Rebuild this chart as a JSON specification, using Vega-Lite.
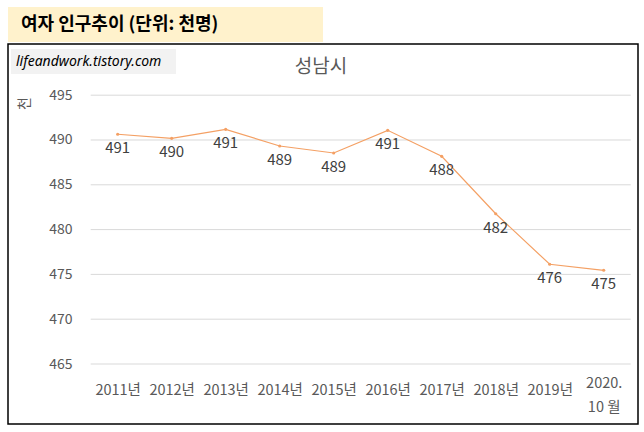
{
  "$schema": "https://vega.github.io/schema/vega-lite/v6.json",
  "description": "성남시 여자 인구추이 (단위: 천명)",
  "padding": {"left": 7, "top": 7, "right": 0, "bottom": 0},
  "background": "white",
  "spacing": 1,
  "config": {"font": "Noto Sans CJK KR"},
  "datasets": {
    "population": [
      {"year": 2011, "value": 490.64},
      {"year": 2012, "value": 490.19},
      {"year": 2013, "value": 491.19},
      {"year": 2014, "value": 489.33},
      {"year": 2015, "value": 488.55},
      {"year": 2016, "value": 491.08},
      {"year": 2017, "value": 488.18},
      {"year": 2018, "value": 481.77},
      {"year": 2019, "value": 476.13},
      {"year": 2020, "value": 475.46}
    ],
    "gridlines": [
      {"value": 465}, {"value": 470}, {"value": 475}, {"value": 480},
      {"value": 485}, {"value": 490}, {"value": 495}
    ]
  },
  "vconcat": [
    {
      "width": 315,
      "height": 35,
      "view": {"fill": "#FFF2CC", "stroke": null},
      "title": {
        "text": "여자 인구추이 (단위: 천명)",
        "anchor": "start",
        "frame": "group",
        "dx": 13,
        "offset": -27,
        "fontSize": 18,
        "fontWeight": "bold",
        "color": "#000000"
      },
      "data": {"values": []},
      "mark": "text"
    },
    {
      "width": 630,
      "height": 380,
      "view": {"stroke": "#000000", "strokeWidth": 1.5},
      "title": {
        "text": "성남시",
        "anchor": "middle",
        "frame": "group",
        "dx": -2,
        "offset": -33,
        "fontSize": 19,
        "fontWeight": "normal",
        "color": "#595959"
      },
      "layer": [
        {
          "data": {"name": "gridlines"},
          "mark": {"type": "rule", "color": "#D9D9D9", "strokeWidth": 1},
          "encoding": {
            "y": {"field": "value", "type": "quantitative",
                  "scale": {"domain": [458.304, 500.714], "nice": false, "zero": false}},
            "x": {"datum": 2010.5, "type": "quantitative",
                  "scale": {"domain": [2008.969, 2020.635], "nice": false, "zero": false}},
            "x2": {"datum": 2020.5}
          }
        },
        {
          "data": {"values": [{"site": "lifeandwork.tistory.com"}]},
          "mark": {"type": "rect", "fill": "#F2F2F2"},
          "encoding": {
            "x": {"datum": 2009.025, "type": "quantitative",
                  "scale": {"domain": [2008.969, 2020.635], "nice": false, "zero": false}},
            "x2": {"datum": 2012.08},
            "y": {"datum": 500.152, "type": "quantitative",
                  "scale": {"domain": [458.304, 500.714], "nice": false, "zero": false}},
            "y2": {"datum": 497.36}
          }
        },
        {
          "data": {"values": [{"site": "lifeandwork.tistory.com"}]},
          "mark": {"type": "text", "align": "left", "baseline": "middle", "fontSize": 14,
                   "fontStyle": "italic", "font": "Noto Sans", "color": "#000000"},
          "encoding": {
            "text": {"field": "site"},
            "x": {"datum": 2009.117, "type": "quantitative",
                  "scale": {"domain": [2008.969, 2020.635], "nice": false, "zero": false}},
            "y": {"datum": 498.757, "type": "quantitative",
                  "scale": {"domain": [458.304, 500.714], "nice": false, "zero": false}}
          }
        },
        {
          "data": {"name": "population"},
          "mark": {"type": "line", "color": "#F4A064", "strokeWidth": 1.2,
                   "point": {"filled": true, "size": 10, "color": "#F4A064"}},
          "encoding": {
            "x": {
              "field": "year", "type": "quantitative",
              "scale": {"domain": [2008.969, 2020.635], "nice": false, "zero": false},
              "axis": {
                "values": [2011, 2012, 2013, 2014, 2015, 2016, 2017, 2018, 2019, 2020],
                "labelExpr": "datum.value == 2020 ? ['2020.', '10 월'] : datum.value + '년'",
                "orient": "bottom", "offset": -34, "domain": false, "ticks": false, "grid": false,
                "labelPadding": {"condition": {"test": "datum.value == 2020", "value": -7}, "value": 0},
                "labelBaseline": "middle", "labelFontSize": 14.5,
                "labelColor": "#595959", "labelLineHeight": 24, "labelFlush": false,
                "labelOverlap": false, "title": null
              }
            },
            "y": {
              "field": "value", "type": "quantitative",
              "scale": {"domain": [458.304, 500.714], "nice": false, "zero": false},
              "axis": {
                "values": [465, 470, 475, 480, 485, 490, 495],
                "orient": "left", "offset": -64, "domain": false, "ticks": false, "grid": false,
                "labelPadding": 0, "labelFontSize": 14, "labelColor": "#595959",
                "title": "천", "titleX": -48, "titleY": 59, "titleFontSize": 14,
                "titleFontWeight": "normal", "titleColor": "#595959",
                "titleAlign": "center", "titleBaseline": "middle", "titleAngle": 270
              }
            }
          }
        },
        {
          "data": {"name": "population"},
          "mark": {"type": "text", "baseline": "middle", "dy": 14, "fontSize": 15, "color": "#404040"},
          "encoding": {
            "text": {"field": "value", "type": "quantitative", "format": ".0f"},
            "x": {"field": "year", "type": "quantitative",
                  "scale": {"domain": [2008.969, 2020.635], "nice": false, "zero": false}},
            "y": {"field": "value", "type": "quantitative",
                  "scale": {"domain": [458.304, 500.714], "nice": false, "zero": false}}
          }
        }
      ]
    }
  ]
}
